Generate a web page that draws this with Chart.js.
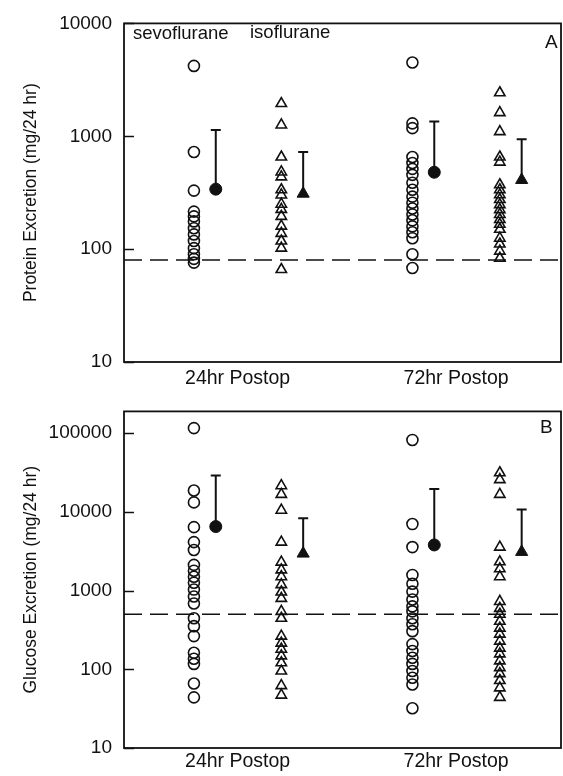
<!DOCTYPE html>
<html>
<head>
<meta charset="utf-8">
<script src="https://cdn.jsdelivr.net/npm/chart.js@4.4.0/dist/chart.umd.min.js"></script>
<style>
  html, body { margin: 0; padding: 0; background: #fff; }
  #wrap { position: relative; width: 563px; height: 776px; }
  canvas { position: absolute; left: 0; }
  #chartA { top: 0; }
  #chartB { top: 388px; }
</style>
</head>
<body>
<div id="wrap">
  <canvas id="chartA" width="563" height="388"></canvas>
  <canvas id="chartB" width="563" height="388"></canvas>
</div>
<script>
// categories
const timepoints = ['24hr Postop', '72hr Postop'];
const groups = ['sevoflurane', 'isoflurane'];

// Panel A: protein excretion (mg/24 hr)
const proteinSevo24 = [4200, 725, 330, 215, 195, 176, 153, 135, 118, 102, 90, 82, 76];
const proteinIso24 = [1950, 1260, 655, 483, 437, 336, 302, 250, 225, 195, 160, 138, 118, 102, 66];
const proteinSevo72 = [4500, 1300, 1180, 655, 580, 514, 455, 387, 336, 292, 258, 229, 203, 180, 159, 141, 125, 90, 68];
const proteinIso72 = [2430, 1620, 1100, 655, 590, 372, 336, 303, 275, 248, 224, 203, 183, 166, 150, 125, 111, 96, 83];
const proteinMean = [340, 310, 480, 410];     // sevo24, iso24, sevo72, iso72
const proteinUpper = [1135, 725, 1350, 940];
const proteinNormal = 80;
const proteinTicks = [10, 100, 1000, 10000];

// Panel B: glucose excretion (mg/24 hr)
const glucoseSevo24 = [116000, 18700, 13200, 6400, 4130, 3280, 2120, 1790, 1500, 1260, 1030, 841, 686, 445, 353, 264, 162, 136, 117, 66, 44];
const glucoseIso24 = [21500, 16700, 10500, 4130, 2300, 1830, 1500, 1190, 960, 795, 545, 445, 264, 215, 180, 148, 121, 95, 62, 47];
const glucoseSevo72 = [82000, 7000, 3570, 1580, 1220, 970, 770, 630, 545, 445, 373, 305, 209, 171, 140, 117, 95, 78, 64, 32];
const glucoseIso72 = [31400, 25700, 16700, 3570, 2320, 1890, 1500, 728, 594, 500, 408, 333, 280, 228, 186, 157, 128, 105, 88, 72, 58, 44];
const glucoseMean = [6500, 2950, 3800, 3100];
const glucoseUpper = [29000, 8300, 19500, 10700];
const glucoseNormal = 500;
const glucoseTicks = [10, 100, 1000, 10000, 100000];

const FONT = 'Liberation Sans, Arial, Helvetica, sans-serif';
const INK = '#111';

function buildDatasets(cols, means, uppers, normal) {
  const ds = [{
    data: [{x: 0, y: normal}, {x: 10, y: normal}],
    showLine: true, borderColor: INK, borderWidth: 1.5, borderDash: [18, 8], pointRadius: 0
  }];
  cols.forEach((vals, k) => {
    const t = Math.floor(k / 2), g = k % 2;
    const cx = 2.6 + 5 * t + (g ? 1 : -1);
    const style = g ? 'triangle' : 'circle';
    ds.push({
      label: groups[g] + ' ' + timepoints[t],
      data: vals.map(v => ({x: cx, y: v})),
      pointStyle: style, pointRadius: g ? 6 : 5.5,
      backgroundColor: 'rgba(0,0,0,0)', borderColor: INK, borderWidth: 1.6
    });
    ds.push({
      data: [{x: cx + 0.5, y: means[k]}, {x: cx + 0.5, y: uppers[k]}],
      showLine: true, borderColor: INK, borderWidth: 2,
      pointStyle: 'line', pointRadius: [0, 5], pointBorderWidth: 2, pointBorderColor: INK
    });
    ds.push({
      data: [{x: cx + 0.5, y: means[k]}],
      pointStyle: style, pointRadius: g ? 7 : 6,
      backgroundColor: INK, borderColor: INK, borderWidth: 1
    });
  });
  return ds;
}

const panelDecor = {
  id: 'panelDecor',
  afterDatasetsDraw(chart, args, opts) {
    const {ctx, chartArea: a} = chart;
    const y = chart.scales.y;
    ctx.save();
    ctx.strokeStyle = INK;
    ctx.lineWidth = 1.8;
    ctx.strokeRect(a.left, a.top, a.right - a.left, a.bottom - a.top);
    ctx.lineWidth = 1.5;
    y.ticks.forEach(t => {
      const py = Math.round(y.getPixelForValue(t.value)) + 0.5;
      ctx.beginPath();
      ctx.moveTo(a.left, py);
      ctx.lineTo(a.left + 10, py);
      ctx.stroke();
    });
    ctx.fillStyle = INK;
    ctx.textBaseline = 'middle';
    ctx.textAlign = 'left';
    (opts.texts || []).forEach(tx => {
      ctx.font = (tx.size || 18.5) + 'px ' + FONT;
      ctx.fillText(tx.text, tx.x, tx.y);
    });
    ctx.restore();
  }
};

function makeChart(id, cols, means, uppers, normal, ticks, yMax, title, xPad, xHeight, texts) {
  return new Chart(document.getElementById(id), {
    type: 'scatter',
    data: {datasets: buildDatasets(cols, means, uppers, normal)},
    plugins: [panelDecor],
    options: {
      responsive: false,
      animation: false,
      layout: {autoPadding: false, padding: {top: 20, right: 2, left: 0, bottom: 0}},
      plugins: {
        legend: {display: false},
        tooltip: {enabled: false},
        panelDecor: {texts: texts}
      },
      scales: {
        x: {
          type: 'linear', min: 0, max: 10,
          afterBuildTicks: s => { s.ticks = timepoints.map((t, i) => ({value: 2.6 + 5 * i})); },
          afterFit: s => { s.height = xHeight; },
          grid: {display: false, drawTicks: false},
          border: {display: false},
          ticks: {
            autoSkip: false, maxRotation: 0, padding: xPad, color: INK,
            font: {family: FONT, size: 19.5},
            callback: (v, i) => timepoints[i]
          }
        },
        y: {
          type: 'logarithmic', min: 10, max: yMax,
          afterBuildTicks: s => { s.ticks = ticks.map(v => ({value: v})); },
          afterFit: s => { s.width = 124; },
          grid: {display: false, drawTicks: false},
          border: {display: false},
          ticks: {
            padding: 12, color: INK,
            font: {family: FONT, size: 19},
            callback: v => String(v)
          },
          title: {
            display: true, text: title, color: INK,
            font: {family: FONT, size: 17.5},
            padding: {top: 21, bottom: 0}
          }
        }
      }
    }
  });
}

makeChart('chartA',
  [proteinSevo24, proteinIso24, proteinSevo72, proteinIso72],
  proteinMean, proteinUpper, proteinNormal, proteinTicks, 10000,
  'Protein Excretion (mg/24 hr)', 5, 26,
  [{text: 'sevoflurane', x: 133, y: 34}, {text: 'isoflurane', x: 250, y: 33},
   {text: 'A', x: 545, y: 43, size: 19}]);

makeChart('chartB',
  [glucoseSevo24, glucoseIso24, glucoseSevo72, glucoseIso72],
  glucoseMean, glucoseUpper, glucoseNormal, glucoseTicks, 189000,
  'Glucose Excretion (mg/24 hr)', 2, 28,
  [{text: 'B', x: 540, y: 40, size: 19}]);
</script>
</body>
</html>
